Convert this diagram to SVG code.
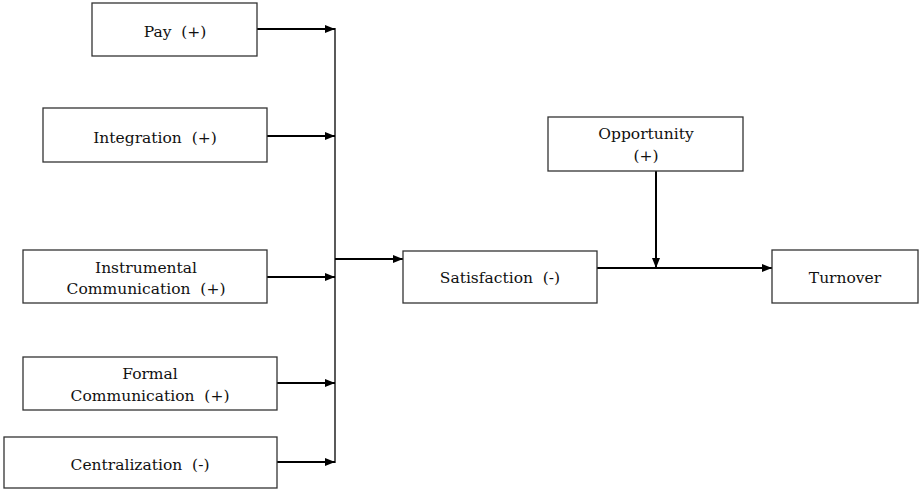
<svg xmlns="http://www.w3.org/2000/svg" width="919" height="490" viewBox="0 0 919 490">
<defs>
<style>
.box{fill:#fff;stroke:#333;stroke-width:1.3}
.t{font-family:"DejaVu Serif",serif;font-size:15.5px;fill:#111;text-anchor:middle;white-space:pre}
.c{fill:none;stroke:#000;stroke-width:2}
.v{fill:none;stroke:#000;stroke-width:1.3}
</style>
<marker id="a" markerWidth="10" markerHeight="8" refX="10" refY="4" orient="auto" markerUnits="userSpaceOnUse">
<path d="M0,0 L10,4 L0,8 Z" fill="#000"/>
</marker>
</defs>
<rect width="919" height="490" fill="#fff"/>
<g id="connectors">
<line class="v" x1="335" y1="28" x2="335" y2="463"/>
<line class="c" x1="257" y1="29" x2="335" y2="29" marker-end="url(#a)"/>
<line class="c" x1="267" y1="136" x2="335" y2="136" marker-end="url(#a)"/>
<line class="c" x1="267" y1="277" x2="335" y2="277" marker-end="url(#a)"/>
<line class="c" x1="277" y1="383" x2="335" y2="383" marker-end="url(#a)"/>
<line class="c" x1="277" y1="462" x2="335" y2="462" marker-end="url(#a)"/>
<line class="c" x1="335" y1="259" x2="403" y2="259" marker-end="url(#a)"/>
<line class="c" x1="597" y1="268" x2="772" y2="268" marker-end="url(#a)"/>
<line class="c" x1="656" y1="171" x2="656" y2="268" marker-end="url(#a)"/>
</g>
<g xml:space="preserve">
<g id="pay"><rect class="box" x="92" y="3" width="165" height="53"/><text class="t" x="175" y="37">Pay  (+)</text></g>
<g id="integration"><rect class="box" x="43" y="108" width="224" height="54"/><text class="t" x="155" y="143">Integration  (+)</text></g>
<g id="instrumental"><rect class="box" x="23" y="250" width="244" height="53"/><text class="t" x="146" y="273">Instrumental</text><text class="t" x="146" y="294">Communication  (+)</text></g>
<g id="formal"><rect class="box" x="23" y="357" width="254" height="53"/><text class="t" x="150" y="379">Formal</text><text class="t" x="150" y="401">Communication  (+)</text></g>
<g id="centralization"><rect class="box" x="4" y="437" width="273" height="51"/><text class="t" x="140" y="470">Centralization  (-)</text></g>
<g id="satisfaction"><rect class="box" x="403" y="251" width="194" height="52"/><text class="t" x="500" y="283">Satisfaction  (-)</text></g>
<g id="opportunity"><rect class="box" x="548" y="117" width="195" height="54"/><text class="t" x="646" y="139">Opportunity</text><text class="t" x="646" y="161">(+)</text></g>
<g id="turnover"><rect class="box" x="772" y="250" width="146" height="53"/><text class="t" x="845" y="283">Turnover</text></g>
</g>
</svg>
